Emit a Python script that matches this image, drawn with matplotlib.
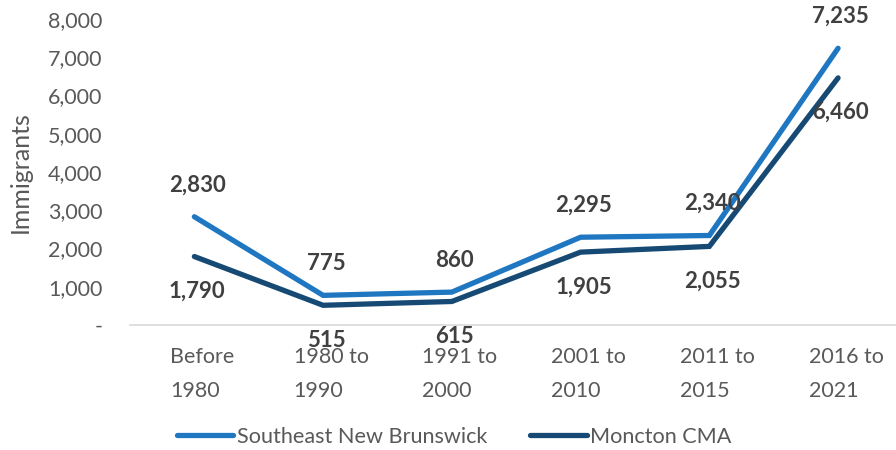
import matplotlib
matplotlib.use("Agg")
import matplotlib.pyplot as plt
import matplotlib.transforms as mtransforms
from matplotlib.ticker import FuncFormatter

# Immigrants by period of arrival
periods = ["Before\n1980", "1980 to\n1990", "1991 to\n2000",
           "2001 to\n2010", "2011 to\n2015", "2016 to\n2021"]
southeast_nb = [2830, 775, 860, 2295, 2340, 7235]
moncton_cma = [1790, 515, 615, 1905, 2055, 6460]

LIGHT_BLUE = "#1F77C1"
DARK_BLUE = "#164A74"
TEXT_GREY = "#595959"
LABEL_GREY = "#404040"

plt.rcParams["font.family"] = ["Lato", "DejaVu Sans"]

fig = plt.figure(figsize=(8.96, 4.5), dpi=100)
ax = fig.add_axes([130 / 896, 1 - 325 / 450, 766 / 896, (325 - 19) / 450])

x = list(range(len(periods)))
ax.plot(x, southeast_nb, color=LIGHT_BLUE, lw=3.8, solid_joinstyle="miter",
        solid_capstyle="round", label="Southeast New Brunswick", zorder=3)
ax.plot(x, moncton_cma, color=DARK_BLUE, lw=3.8, solid_joinstyle="miter",
        solid_capstyle="round", label="Moncton CMA", zorder=3)

# value labels: upper series above, lower series below
for i, v in enumerate(southeast_nb):
    ax.annotate(f"{v:,}", (i, v), xytext=(2, 23), textcoords="offset points",
                ha="center", va="center", fontsize=16, fontweight="bold",
                color=LABEL_GREY, annotation_clip=False)
for i, v in enumerate(moncton_cma):
    ax.annotate(f"{v:,}", (i, v), xytext=(2, -25), textcoords="offset points",
                ha="center", va="center", fontsize=16, fontweight="bold",
                color=LABEL_GREY, annotation_clip=False)

ax.set_xlim(-0.5, 5.45)
ax.set_ylim(0, 8000)
ax.set_yticks(range(0, 8001, 1000))
ax.yaxis.set_major_formatter(FuncFormatter(lambda v, p: "-" if v == 0 else f"{int(v):,}"))
ax.set_xticks(x)
ax.set_xticklabels(periods, multialignment="left", linespacing=1.85)

ax.tick_params(axis="both", length=0, labelsize=15.5, labelcolor=TEXT_GREY)
ax.tick_params(axis="y", pad=20)
ax.tick_params(axis="x", pad=16)

# nudge the category labels a little to the right
shift = mtransforms.ScaledTranslation(8 / 100, 0, fig.dpi_scale_trans)
for lbl in ax.get_xticklabels():
    lbl.set_transform(lbl.get_transform() + shift)

for side in ["top", "right", "left"]:
    ax.spines[side].set_visible(False)
ax.spines["bottom"].set_color("#D9D9D9")
ax.spines["bottom"].set_linewidth(1.2)

ax.set_ylabel("Immigrants", fontsize=18, color=TEXT_GREY)
ax.yaxis.set_label_coords(-0.128, 0.5)

leg = fig.legend(loc="center", bbox_to_anchor=(0.507, 1 - 437 / 450), ncol=2,
                 frameon=False, fontsize=15.6, handlelength=2.6, handletextpad=0.15,
                 columnspacing=2.0)
for t in leg.get_texts():
    t.set_color(TEXT_GREY)

fig.savefig("out.png", dpi=100)
